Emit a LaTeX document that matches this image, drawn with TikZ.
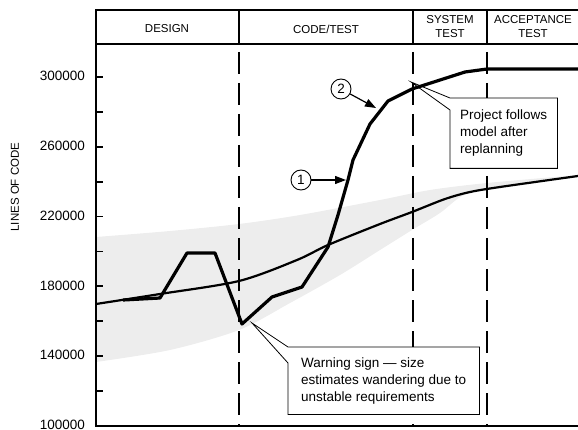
\documentclass[tikz,border=0pt]{standalone}
\usepackage{fontspec}
\setmainfont{Liberation Sans}
\usetikzlibrary{arrows.meta}

\newcommand{\lblfont}{\fontsize{13.5}{17}\selectfont}
\newcommand{\hdrfont}{\fontsize{11.5}{14}\selectfont}

\begin{document}
\begin{tikzpicture}[x=1pt, y=-1pt,
    frame/.style={line width=1.3pt},
    phase/.style={line width=2.4pt, dash pattern=on 22pt off 9pt},
    model/.style={line width=2.2pt},
    actual/.style={line width=3.2pt, line join=round},
    callout/.style={line width=0.8pt},
    note/.style={font=\lblfont, align=left, inner sep=0pt, fill=white, anchor=north west},
    tag/.style={circle, draw, line width=0.9pt, fill=white, minimum size=20pt, inner sep=0pt, font=\lblfont},
    pointer/.style={line width=1.2pt, -{Triangle[length=11pt,width=8pt]}}]

    \useasboundingbox (0,0) rectangle (578,430);

    % ====== Define the y scale (20000 lines per step) ======
    \def\yBase{426} % y of 100000
    \def\yStep{34.9}

    % ===== Band of expected growth =====
    \fill[black!7]
        plot[smooth] coordinates {(96,237) (170,231) (239,224) (300,215) (380,200) (430,190) (487,183) (578,175)}
        -- plot[smooth] coordinates {(578,177) (520,184) (487,190) (462,196) (440,213) (412,230) (380,250) (340,275) (290,303) (239,330) (170,350) (96,362)}
        -- cycle;

    % ===== Phase boundaries =====
    \foreach \x in {239,413,487} {
        \draw[phase] (\x,52) -- (\x,426);
    }

    % ===== Frame and header =====
    \draw[frame] (578,10) -- (96,10) -- (96,426) -- (578,426);
    \draw[line width=1.7pt] (96,44) -- (578,44);
    \foreach \x in {239,413,487} {
        \draw[frame] (\x,10) -- (\x,44);
    }
    \node[font=\hdrfont] (design) at (167,29) {DESIGN};
    \node[font=\hdrfont] (codetest) at (326,29) {CODE/TEST};
    \node[font=\hdrfont, align=center] (systest) at (450,27) {SYSTEM\\TEST};
    \node[font=\hdrfont, align=center] (acctest) at (533,27) {ACCEPTANCE\\TEST};

    % ===== Axis ticks and labels =====
    \foreach \k in {0,...,10} {
        \draw[line width=1.8pt] (96,{\yBase-\yStep*\k}) -- (103,{\yBase-\yStep*\k});
    }
    \foreach \k/\v in {0/100000,2/140000,4/180000,6/220000,8/260000,10/300000} {
        \node[font=\lblfont, anchor=east, inner sep=0pt] (tick\k) at (85,{\yBase-\yStep*\k-1}) {\v};
    }
    \node[font=\hdrfont, rotate=90] (ylabel) at (15,187) {LINES OF CODE};

    % ===== Model curve =====
    \draw[model] plot[smooth] coordinates {(96,304) (160,294) (239,281) (297,260) (328,245) (380,224) (412,212) (445,199) (470,192) (500,187) (578,176)};

    % ===== Actual size estimates =====
    \draw[actual] (123,300) -- (160,298) -- (187,253) -- (215,253) -- (242,324) -- (272,297)
        -- (302,287) -- (328,247) -- (338,215) -- (348,180) -- (353,160) -- (370,124)
        -- (388,101) -- (412,89) -- (465,72) -- (487,69) -- (578,69);

    % ===== Numbered markers =====
    \node[tag] (one) at (301,180) {1};
    \node[tag] (two) at (341,89) {2};
    \coordinate (hitOne) at (346,180);
    \coordinate (hitTwo) at (376,108);
    \draw[pointer] (one) -- (hitOne);
    \draw[pointer] (two) -- (hitTwo);

    % ===== Callouts =====
    \coordinate (tipA) at (411,82);
    \node[note, minimum width=107pt, minimum height=70pt] (noteA) at (450,98)
        {Project follows\\model after\\replanning};
    \draw[callout] (tipA) -- (noteA.north west) -- (noteA.north east) -- (noteA.south east)
        -- (noteA.south west) -- ([yshift=-12pt]noteA.north west) -- cycle;

    \coordinate (tipB) at (252,323);
    \node[note, minimum width=191pt, minimum height=67pt] (noteB) at (288,347)
        {Warning sign — size\\estimates wandering due to\\unstable requirements};
    \draw[callout] (tipB) -- (noteB.north west) -- (noteB.north east) -- (noteB.south east)
        -- (noteB.south west) -- ([yshift=-16pt]noteB.north west) -- cycle;

\end{tikzpicture}
\end{document}
